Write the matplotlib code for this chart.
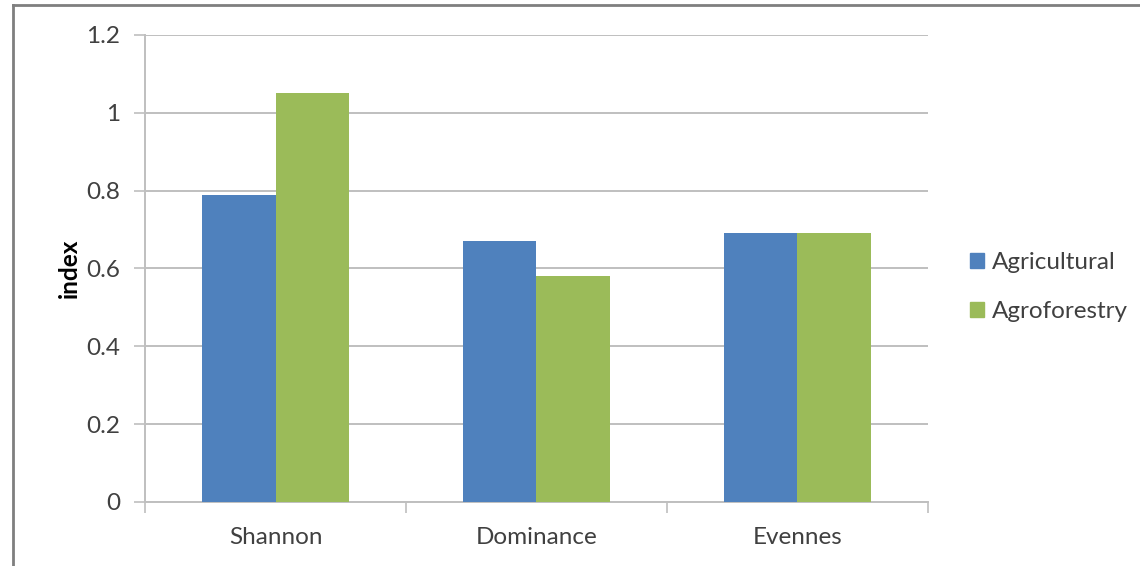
import numpy as np
import matplotlib
matplotlib.use("Agg")
import matplotlib.pyplot as plt
from matplotlib.lines import Line2D
from matplotlib.patches import Patch

# Data
categories = ["Shannon", "Dominance", "Evennes"]
agricultural = [0.79, 0.67, 0.69]
agroforestry = [1.05, 0.58, 0.69]
yticks = [0, 0.2, 0.4, 0.6, 0.8, 1, 1.2]
ytick_labels = ["0", "0.2", "0.4", "0.6", "0.8", "1", "1.2"]

# Style
blue = "#4F81BD"
green = "#9BBB59"
grid_col = "#BFBFBF"
text_col = "#404040"
fsize = 17.5
plt.rcParams["font.family"] = ["Lato", "DejaVu Sans"]


def main():
    fig = plt.figure(figsize=(11.4, 5.66), dpi=100)
    ax = fig.add_axes([0.1272, 0.1131, 0.6868, 0.8251])

    x = np.arange(len(categories))
    width = 0.282
    ax.bar(x - width / 2, agricultural, width, color=blue, zorder=3)
    ax.bar(x + width / 2, agroforestry, width, color=green, zorder=3)

    ax.set_xlim(-0.5, len(categories) - 0.5)
    ax.set_ylim(0, 1.2)

    # y axis
    ax.set_yticks(yticks)
    ax.set_yticklabels(ytick_labels, fontsize=fsize, color=text_col)
    ax.yaxis.grid(True, color=grid_col, linewidth=1.4, zorder=0)
    ax.tick_params(axis="y", length=8, width=1.2, color=grid_col, pad=10)
    ax.set_ylabel("index", fontsize=fsize, fontweight="bold", color="black",
                  labelpad=4)

    # x axis: labels centred, tick marks between categories
    ax.set_xticks(x)
    ax.set_xticklabels(categories, fontsize=fsize, color=text_col)
    ax.tick_params(axis="x", length=0, pad=18)
    ax.set_xticks(np.arange(-0.5, len(categories), 1.0), minor=True)
    ax.tick_params(axis="x", which="minor", length=8, width=1.2,
                   color=grid_col)

    for side in ["top", "right"]:
        ax.spines[side].set_visible(False)
    for side in ["left", "bottom"]:
        ax.spines[side].set_color(grid_col)
        ax.spines[side].set_linewidth(1.4)

    handles = [Patch(color=blue, label="Agricultural"),
               Patch(color=green, label="Agroforestry")]
    fig.legend(handles=handles, loc="center left",
               bbox_to_anchor=(0.8316, 0.493), frameon=False,
               fontsize=fsize, labelcolor=text_col, handlelength=0.6,
               handleheight=0.6, handletextpad=0.3, labelspacing=1.15)

    # outer chart border (left and top edges)
    fig.add_artist(Line2D([0.0118, 0.0118], [0, 0.991], color="#7F7F7F",
                          linewidth=2, transform=fig.transFigure))
    fig.add_artist(Line2D([0.0118, 1.0], [0.991, 0.991], color="#7F7F7F",
                          linewidth=2, transform=fig.transFigure))

    fig.savefig("out.png", dpi=100, facecolor="white")


if __name__ == "__main__":
    main()
